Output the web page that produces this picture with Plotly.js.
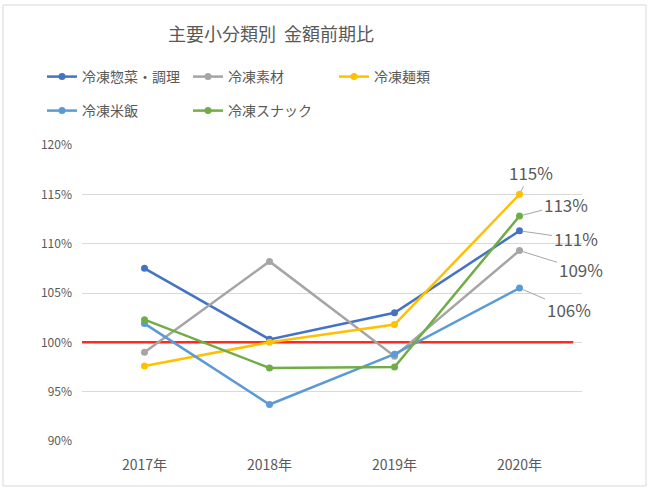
<!DOCTYPE html>
<html>
<head>
<meta charset="utf-8">
<script src="https://cdn.plot.ly/plotly-3.0.1.min.js"></script>
<style>html,body{margin:0;padding:0;background:#fff;}#chart{width:650px;height:490px;}</style>
</head>
<body>
<div id="chart"></div>
<script>
const years = ["2017年", "2018年", "2019年", "2020年"];
const seriesNames = ["冷凍惣菜・調理", "冷凍素材", "冷凍麺類", "冷凍米飯", "冷凍スナック"];
const souzai = [1.075, 1.003, 1.030, 1.113];
const sozai = [0.990, 1.082, 0.986, 1.093];
const men = [0.976, 1.000, 1.018, 1.150];
const beihan = [1.019, 0.937, 0.988, 1.055];
const snack = [1.023, 0.974, 0.975, 1.128];
const labels2020 = ["111%", "109%", "115%", "106%", "113%"];
const yTicks = [0.90, 0.95, 1.00, 1.05, 1.10, 1.15, 1.20];
const yTickText = ["90%", "95%", "100%", "105%", "110%", "115%", "120%"];
const baseline = 1.0;

const colors = ["#4472C4", "#A5A5A5", "#FFC000", "#5B9BD5", "#70AD47"];
const allValues = [souzai, sozai, men, beihan, snack];
const legendOf = ["legend", "legend", "legend", "legend2", "legend2"];
const FONT = "'Noto Sans CJK JP', 'Noto Sans', sans-serif";

const traces = allValues.map((vals, i) => ({
  type: "scatter",
  mode: "lines+markers",
  name: seriesNames[i],
  x: years,
  y: vals,
  line: {color: colors[i], width: 2.5},
  marker: {color: colors[i], size: 7},
  legend: legendOf[i],
  hoverinfo: "skip"
}));

// label offsets (pixels) for each series' 2020 value label
const offsets = [[56, 8], [61, 19], [11, -22], [49, 21], [46, -12]];
const annotations = allValues.map((vals, i) => ({
  x: years[3], y: vals[3], xref: "x", yref: "y",
  text: labels2020[i],
  showarrow: true, arrowhead: 0, arrowwidth: 1, arrowcolor: "#A6A6A6",
  ax: offsets[i][0], ay: offsets[i][1], standoff: 3,
  font: {family: FONT, size: 17, color: "#595959"}
}));

const legendCommon = {
  orientation: "h", xref: "container", yref: "container",
  x: 42/650, xanchor: "left", yanchor: "middle",
  entrywidth: 101, entrywidthmode: "pixels",
  font: {family: FONT, size: 14, color: "#595959"},
  bgcolor: "rgba(0,0,0,0)"
};

const layout = {
  width: 650, height: 490,
  margin: {l: 82, r: 68, t: 145, b: 49},
  paper_bgcolor: "#FFFFFF",
  plot_bgcolor: "#FFFFFF",
  font: {family: FONT, color: "#595959"},
  title: {
    text: "主要小分類別\u00a0\u00a0金額前期比",
    x: 271/650, xanchor: "center", xref: "container",
    y: 1 - 35/490, yanchor: "middle", yref: "container",
    font: {family: FONT, size: 18, color: "#595959"}
  },
  showlegend: true,
  legend: Object.assign({}, legendCommon, {y: 1 - 77/490}),
  legend2: Object.assign({}, legendCommon, {y: 1 - 111/490}),
  xaxis: {
    type: "category",
    range: [-0.5, 3.5],
    showgrid: false, zeroline: false, showline: false, ticks: "",
    ticklabelstandoff: 14,
    tickfont: {family: FONT, size: 14, color: "#595959"},
    fixedrange: true
  },
  yaxis: {
    range: [0.9, 1.2],
    tickvals: yTicks, ticktext: yTickText,
    showgrid: true, gridcolor: "#D9D9D9", gridwidth: 1,
    zeroline: false, showline: false, ticks: "",
    ticklabelstandoff: 9,
    tickfont: {family: FONT, size: 12, color: "#595959"},
    fixedrange: true
  },
  shapes: [
    {type: "line", xref: "x", yref: "y", x0: -0.5, x1: 3.43, y0: baseline, y1: baseline,
     line: {color: "#FF2A1F", width: 2.5}, layer: "between"},
    {type: "rect", xref: "paper", yref: "paper", x0: -0.158, x1: 1.128, y0: -0.152, y1: 1.473,
     line: {color: "#D9D9D9", width: 1}, fillcolor: "rgba(0,0,0,0)", layer: "above"}
  ],
  annotations: annotations
};

Plotly.newPlot("chart", traces, layout, {displayModeBar: false, staticPlot: true});
</script>
</body>
</html>
